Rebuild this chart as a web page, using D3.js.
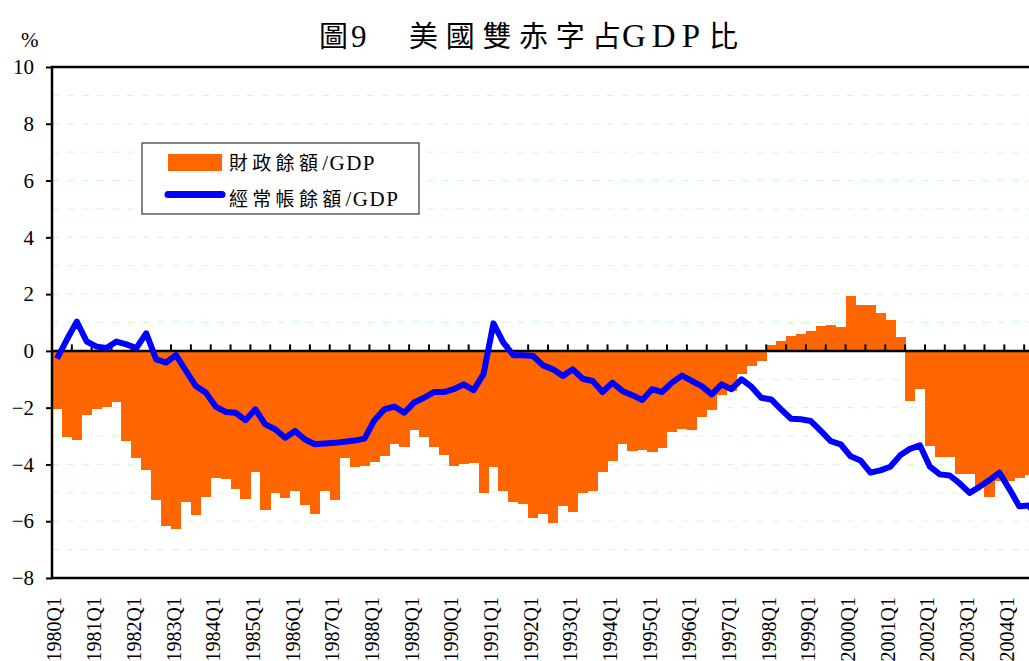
<!DOCTYPE html>
<html>
<head>
<meta charset="utf-8">
<script src="https://cdn.jsdelivr.net/npm/d3@7"></script>
<style>
    body { margin: 0; background: #fff; }
    svg { display: block; }
</style>
</head>
<body>
<div id="chart"></div>
<script>
// Datos (lectura aproximada del gráfico original), trimestral 1980Q1 - 2004Q4
const years = d3.range(1980, 2005);
const quarterNames = ['Q1', 'Q2', 'Q3', 'Q4'];
const categories = years.flatMap(yr => quarterNames.map(q => yr + q));

// 財政餘額/GDP
const fiscalBalance = [
    -2.05, -3.04, -3.14, -2.27, -2.04, -1.96, -1.80, -3.19, -3.78, -4.18,
    -5.26, -6.18, -6.29, -5.34, -5.79, -5.15, -4.48, -4.53, -4.88, -5.20,
    -4.27, -5.61, -5.01, -5.19, -4.94, -5.44, -5.74, -4.92, -5.26, -3.78,
    -4.08, -4.06, -3.92, -3.71, -3.29, -3.39, -2.80, -3.04, -3.39, -3.65,
    -4.04, -4.00, -3.96, -5.02, -4.09, -4.92, -5.34, -5.38, -5.89, -5.76,
    -6.06, -5.45, -5.68, -5.00, -4.95, -4.27, -3.89, -3.29, -3.54, -3.50,
    -3.56, -3.42, -2.84, -2.75, -2.79, -2.34, -2.08, -1.55, -1.41, -0.80,
    -0.53, -0.35, 0.21, 0.35, 0.53, 0.61, 0.71, 0.89, 0.92, 0.83,
    1.95, 1.63, 1.63, 1.32, 1.09, 0.49, -1.76, -1.35, -3.35, -3.74,
    -3.74, -4.34, -4.32, -4.76, -5.16, -4.60, -4.59, -4.46, -4.37, -4.30
];

// 經常帳餘額/GDP
const currentAccount = [
    -0.27, 0.40, 1.03, 0.33, 0.15, 0.10, 0.33, 0.23, 0.10, 0.62,
    -0.30, -0.41, -0.15, -0.70, -1.24, -1.47, -1.96, -2.15, -2.18, -2.44,
    -2.06, -2.59, -2.76, -3.06, -2.82, -3.12, -3.29, -3.26, -3.24, -3.20,
    -3.16, -3.09, -2.44, -2.06, -1.96, -2.18, -1.82, -1.65, -1.45, -1.45,
    -1.35, -1.18, -1.38, -0.82, 0.97, 0.29, -0.15, -0.15, -0.18, -0.51,
    -0.65, -0.88, -0.65, -0.98, -1.06, -1.45, -1.12, -1.41, -1.56, -1.73,
    -1.35, -1.45, -1.12, -0.87, -1.06, -1.24, -1.53, -1.18, -1.35, -1.00,
    -1.26, -1.65, -1.71, -2.06, -2.39, -2.41, -2.47, -2.82, -3.18, -3.29,
    -3.71, -3.86, -4.29, -4.21, -4.08, -3.68, -3.45, -3.33, -4.08, -4.35,
    -4.39, -4.67, -5.00, -4.79, -4.55, -4.29, -4.86, -5.47, -5.45, -6.00
];

const yTicks = [-8, -6, -4, -2, 0, 2, 4, 6, 8, 10];
const gridValues = d3.range(-7, 10);
const legendNames = ['財政餘額', '經常帳餘額'];
const legendUnit = '/GDP';

const COLOR_FISCAL = '#ff6600';
const COLOR_CA = '#0000ff';
const SERIF = "'Liberation Serif', 'Times New Roman', Times, 'DejaVu Serif', serif";
const CJK = "'Noto Sans CJK TC', 'Noto Sans CJK JP', sans-serif";

/**
 * Dibuja el título del gráfico.
 * @param {Object} svg - La selección del svg.
 */
function drawTitle(svg) {
    const title = svg.append('text')
        .attr('y', 47)
        .attr('font-size', 29)
        .attr('fill', '#000');

    title.append('tspan').attr('x', 319).attr('font-family', CJK).text('圖');
    title.append('tspan').attr('x', 351).attr('font-family', SERIF).attr('font-size', 31).text('9');
    title.append('tspan').attr('x', 409).attr('font-family', CJK).attr('letter-spacing', 7.7).text('美國雙赤字');
    title.append('tspan').attr('x', 592).attr('font-family', CJK).text('占');
    title.append('tspan').attr('x', 622).attr('font-family', SERIF).attr('font-size', 33)
        .attr('letter-spacing', 6).text('GDP');
    title.append('tspan').attr('x', 709).attr('font-family', CJK).text('比');
}

/**
 * Dibuja el gráfico completo.
 */
function drawChart() {
    const width = 1029;
    const height = 661;
    const plot = { left: 52, top: 67, bottom: 578, step: 9.92 };
    plot.right = plot.left + categories.length * plot.step;

    const svg = d3.select('#chart').append('svg')
        .attr('width', width)
        .attr('height', height);

    const x = d3.scaleBand()
        .domain(categories)
        .range([plot.left, plot.right])
        .padding(0);

    const y = d3.scaleLinear()
        .domain([-8, 10])
        .range([plot.bottom, plot.top]);

    drawTitle(svg);

    svg.append('text')
        .attr('x', 21)
        .attr('y', 47)
        .attr('font-family', SERIF)
        .attr('font-size', 21)
        .text('%');

    // líneas de cuadrícula
    svg.append('g')
        .selectAll('line')
        .data(gridValues.filter(v => v !== 0))
        .enter().append('line')
        .attr('x1', plot.left)
        .attr('x2', plot.right)
        .attr('y1', d => y(d))
        .attr('y2', d => y(d))
        .attr('stroke', '#ccffcc')
        .attr('stroke-width', 1)
        .attr('stroke-dasharray', '7,8');

    // barras del saldo fiscal
    svg.append('g')
        .selectAll('rect')
        .data(fiscalBalance)
        .enter().append('rect')
        .attr('x', (d, i) => x(categories[i]))
        .attr('width', x.bandwidth() + 0.4)
        .attr('y', d => y(Math.max(0, d)))
        .attr('height', d => Math.abs(y(d) - y(0)))
        .attr('fill', COLOR_FISCAL)
        .attr('shape-rendering', 'crispEdges');

    // eje y
    const yAxis = svg.append('g')
        .attr('transform', `translate(${plot.left},0)`)
        .call(d3.axisLeft(y).tickValues(yTicks).tickSize(6).tickPadding(12));
    yAxis.select('.domain').remove();
    yAxis.attr('font-family', SERIF).attr('font-size', 21);
    yAxis.selectAll('.tick line').attr('stroke', '#000').attr('stroke-width', 2);
    yAxis.selectAll('.tick text').attr('fill', '#000');

    // línea cero con marcas cada dos trimestres
    svg.append('g')
        .selectAll('line')
        .data(categories.filter((c, i) => i % 2 === 0 && i > 0))
        .enter().append('line')
        .attr('x1', d => x(d))
        .attr('x2', d => x(d))
        .attr('y1', y(0))
        .attr('y2', y(0) - 6.5)
        .attr('stroke', '#000')
        .attr('stroke-width', 2);

    svg.append('line')
        .attr('x1', plot.left)
        .attr('x2', plot.right)
        .attr('y1', y(0))
        .attr('y2', y(0))
        .attr('stroke', '#000')
        .attr('stroke-width', 2.5);

    // marco
    svg.append('rect')
        .attr('x', plot.left)
        .attr('y', plot.top)
        .attr('width', plot.right - plot.left)
        .attr('height', plot.bottom - plot.top)
        .attr('fill', 'none')
        .attr('stroke', '#000')
        .attr('stroke-width', 2.5);

    // etiquetas del eje x (solo Q1)
    svg.append('g')
        .attr('font-family', SERIF)
        .attr('font-size', 20)
        .selectAll('text')
        .data(categories.filter((c, i) => i % 4 === 0))
        .enter().append('text')
        .attr('transform', d => `translate(${x(d) + x.bandwidth() / 2 - 2.5},597) rotate(-90)`)
        .attr('text-anchor', 'end')
        .attr('dy', '0.35em')
        .text(d => d);

    // línea de cuenta corriente
    const line = d3.line()
        .x((d, i) => x(categories[i]) + x.bandwidth() / 2)
        .y(d => y(d));

    svg.append('path')
        .datum(currentAccount)
        .attr('d', line)
        .attr('fill', 'none')
        .attr('stroke', COLOR_CA)
        .attr('stroke-width', 6)
        .attr('stroke-linejoin', 'round');

    drawLegend(svg);
}

/**
 * Dibuja la leyenda.
 * @param {Object} svg - La selección del svg.
 */
function drawLegend(svg) {
    const legend = svg.append('g');

    legend.append('rect')
        .attr('x', 142)
        .attr('y', 143)
        .attr('width', 277)
        .attr('height', 71)
        .attr('fill', '#fff')
        .attr('stroke', '#333')
        .attr('stroke-width', 1.2);

    legend.append('rect')
        .attr('x', 168)
        .attr('y', 154)
        .attr('width', 54)
        .attr('height', 17)
        .attr('fill', COLOR_FISCAL);

    legend.append('line')
        .attr('x1', 168)
        .attr('x2', 222)
        .attr('y1', 194.5)
        .attr('y2', 194.5)
        .attr('stroke', COLOR_CA)
        .attr('stroke-width', 7)
        .attr('stroke-linecap', 'round');

    const labels = legend.selectAll('text.lbl')
        .data(legendNames)
        .enter().append('text')
        .attr('class', 'lbl')
        .attr('x', 229)
        .attr('y', (d, i) => 170 + i * 36)
        .attr('font-size', 19)
        .attr('fill', '#000');

    labels.append('tspan')
        .attr('font-family', CJK)
        .attr('letter-spacing', 4.3)
        .text(d => d);

    labels.append('tspan')
        .attr('font-family', SERIF)
        .attr('font-size', 21)
        .attr('letter-spacing', 1.5)
        .text(legendUnit);
}

drawChart();
</script>
</body>
</html>
